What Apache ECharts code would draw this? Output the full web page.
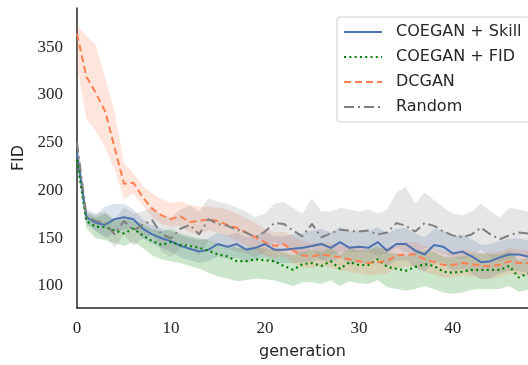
<!DOCTYPE html>
<html>
<head>
<meta charset="utf-8">
<script src="https://cdn.jsdelivr.net/npm/echarts@6/dist/echarts.min.js"></script>
<style>
  html, body { margin: 0; padding: 0; background: #fff; }
  #chart { width: 528px; height: 365px; }
</style>
</head>
<body>
<div id="chart"></div>
<script>
const gens = [0, 1, 2, 3, 4, 5, 6, 7, 8, 9, 10, 11, 12, 13, 14, 15, 16, 17, 18, 19, 20, 21, 22, 23, 24,
  25, 26, 27, 28, 29, 30, 31, 32, 33, 34, 35, 36, 37, 38, 39, 40, 41, 42, 43, 44, 45, 46, 47, 48];
const yTicks = [100, 150, 200, 250, 300, 350];
const xTicks = [0, 10, 20, 30, 40];

// COEGAN + Skill
const skillMean = [239, 172, 166, 164, 170, 172, 170, 160, 154, 150, 147, 142, 139, 136, 138, 144, 141, 144, 138, 140, 144, 138, 138, 139, 140,
  142, 144, 140, 146, 140, 141, 140, 146, 137, 144, 144, 137, 133, 143, 141, 134, 136, 131, 125, 126, 130, 133, 133, 131];
const skillHi = [245, 178, 174, 183, 186, 186, 180, 170, 164, 160, 157, 153, 150, 148, 150, 156, 153, 156, 151, 153, 157, 152, 152, 154, 155,
  158, 160, 156, 162, 157, 158, 157, 162, 155, 160, 161, 155, 151, 160, 158, 152, 154, 149, 143, 144, 147, 150, 150, 148];
const skillLo = [232, 165, 157, 150, 156, 159, 160, 150, 144, 140, 136, 130, 127, 124, 126, 131, 128, 130, 125, 127, 130, 124, 124, 124, 125,
  126, 128, 124, 130, 123, 124, 123, 130, 120, 127, 127, 119, 115, 126, 124, 116, 118, 113, 107, 108, 113, 116, 116, 114];

// COEGAN + FID
const fidMean = [232, 168, 162, 162, 158, 155, 160, 153, 147, 143, 146, 143, 142, 140, 137, 133, 131, 126, 126, 128, 127, 126, 121, 117, 123,
  124, 121, 126, 118, 125, 122, 122, 128, 120, 118, 116, 120, 123, 121, 115, 114, 115, 117, 117, 117, 117, 121, 109, 113];
const fidHi = [240, 176, 172, 176, 168, 170, 168, 165, 160, 157, 160, 155, 152, 150, 148, 144, 143, 140, 140, 141, 139, 139, 135, 132, 136,
  138, 136, 140, 133, 139, 137, 138, 142, 135, 134, 132, 135, 138, 136, 131, 130, 131, 134, 134, 133, 133, 137, 127, 130];
const fidLo = [224, 160, 150, 148, 145, 142, 146, 140, 132, 128, 126, 124, 121, 118, 114, 110, 108, 105, 106, 108, 107, 106, 103, 100, 104,
  104, 102, 106, 100, 105, 103, 102, 106, 99, 97, 95, 97, 100, 97, 93, 92, 93, 96, 97, 97, 97, 100, 94, 96];

// DCGAN
const dcganMean = [364, 319, 302, 283, 245, 207, 208, 193, 181, 174, 170, 173, 167, 168, 170, 168, 164, 161, 156, 151, 146, 142, 144, 137, 132,
  131, 133, 132, 130, 128, 126, 124, 125, 126, 132, 133, 133, 128, 125, 122, 122, 124, 123, 121, 121, 122, 126, 124, 124];
const dcganHi = [373, 362, 352, 318, 282, 229, 218, 205, 197, 191, 187, 189, 185, 183, 183, 182, 180, 176, 171, 166, 160, 156, 157, 152, 147,
  145, 146, 145, 143, 142, 140, 138, 139, 140, 145, 146, 146, 142, 139, 136, 136, 138, 137, 135, 135, 136, 140, 138, 138];
const dcganLo = [330, 275, 262, 245, 222, 191, 197, 184, 172, 165, 162, 163, 156, 155, 158, 156, 152, 148, 143, 137, 132, 129, 132, 124, 119,
  119, 121, 119, 117, 115, 113, 111, 112, 113, 119, 120, 120, 115, 112, 109, 109, 111, 110, 108, 108, 109, 113, 111, 111];

// Random
const randMean = [250, 173, 168, 166, 154, 168, 158, 164, 169, 154, 150, 160, 164, 154, 170, 165, 163, 159, 156, 151, 157, 166, 165, 158, 152,
  165, 151, 155, 159, 158, 157, 158, 154, 156, 166, 163, 157, 166, 163, 157, 153, 151, 154, 161, 154, 149, 153, 156, 155];
const randHi = [258, 180, 176, 178, 170, 182, 176, 178, 182, 174, 172, 180, 184, 178, 192, 188, 186, 182, 178, 172, 176, 186, 188, 182, 176,
  192, 178, 178, 182, 180, 178, 180, 176, 180, 198, 204, 186, 198, 190, 182, 176, 174, 178, 186, 178, 172, 182, 180, 178];
const randLo = [242, 166, 158, 152, 140, 154, 142, 150, 154, 136, 130, 140, 144, 132, 148, 142, 140, 136, 134, 130, 136, 146, 142, 136, 130,
  140, 126, 132, 136, 136, 136, 136, 132, 134, 140, 136, 132, 140, 138, 134, 130, 128, 132, 138, 130, 126, 128, 132, 132];

function band(key, lo, hi, color) {
  return [
    {
      type: 'line', stack: key, data: lo, symbol: 'none', silent: true, z: 1,
      lineStyle: { opacity: 0 }
    },
    {
      type: 'line', stack: key, data: hi.map((v, i) => v - lo[i]), symbol: 'none', silent: true, z: 1,
      lineStyle: { opacity: 0 },
      areaStyle: { color: color, opacity: 1 }
    }
  ];
}

function meanLine(name, ys, color, dash, width) {
  return {
    name: name, type: 'line', data: ys, symbol: 'none', z: 3,
    lineStyle: { color: color, width: width, type: dash, cap: 'butt' },
    itemStyle: { color: color }
  };
}

const chart = echarts.init(document.getElementById('chart'), null, { renderer: 'canvas' });

const axisFont = { fontFamily: 'Liberation Serif', fontSize: 17, color: '#262626' };
const nameFont = { fontFamily: 'DejaVu Sans', fontSize: 16, color: '#262626' };

chart.setOption({
  animation: false,
  backgroundColor: '#fff',
  grid: { left: 77, right: 0, top: 8, bottom: 56 },
  legend: {
    data: ['COEGAN + Skill', 'COEGAN + FID', 'DCGAN', 'Random'],
    orient: 'vertical',
    left: 337,
    top: 17,
    padding: [7, 8, 7, 6],
    itemWidth: 38,
    itemHeight: 16,
    itemGap: 9,
    itemStyle: { opacity: 0 },
    backgroundColor: 'rgba(255,255,255,0.85)',
    borderColor: '#cccccc',
    borderWidth: 1,
    borderRadius: 3,
    textStyle: { fontFamily: 'DejaVu Sans', fontSize: 16, color: '#262626', padding: [0, 0, 0, 9] }
  },
  xAxis: {
    type: 'category',
    data: gens,
    boundaryGap: false,
    name: 'generation',
    nameLocation: 'middle',
    nameGap: 36,
    nameTextStyle: nameFont,
    axisLine: { lineStyle: { color: '#262626', width: 1.5 } },
    axisTick: { show: false },
    splitLine: { show: false },
    axisLabel: Object.assign({
      margin: 12,
      interval: (idx, val) => xTicks.indexOf(Number(val)) >= 0
    }, axisFont)
  },
  yAxis: {
    type: 'value',
    min: 77,
    max: 391,
    name: 'FID',
    nameLocation: 'middle',
    nameGap: 47,
    nameTextStyle: nameFont,
    axisLine: { show: true, lineStyle: { color: '#262626', width: 1.5 } },
    axisTick: { show: false },
    splitLine: { show: false },
    axisLabel: Object.assign({ customValues: yTicks, margin: 14 }, axisFont)
  },
  series: [
    ...band('skill', skillLo, skillHi, 'rgba(76,114,176,0.2)'),
    ...band('fid', fidLo, fidHi, 'rgba(0,128,0,0.2)'),
    ...band('dcgan', dcganLo, dcganHi, 'rgba(255,127,80,0.2)'),
    ...band('rand', randLo, randHi, 'rgba(128,128,128,0.2)'),
    meanLine('COEGAN + Skill', skillMean, '#4c72b0', 'solid', 2),
    meanLine('COEGAN + FID', fidMean, '#008000', [2, 3.3], 2.2),
    meanLine('DCGAN', dcganMean, '#ff7f50', [7, 4], 2),
    meanLine('Random', randMean, '#7f7f7f', [10, 4, 2, 4], 2)
  ]
});
</script>
</body>
</html>
